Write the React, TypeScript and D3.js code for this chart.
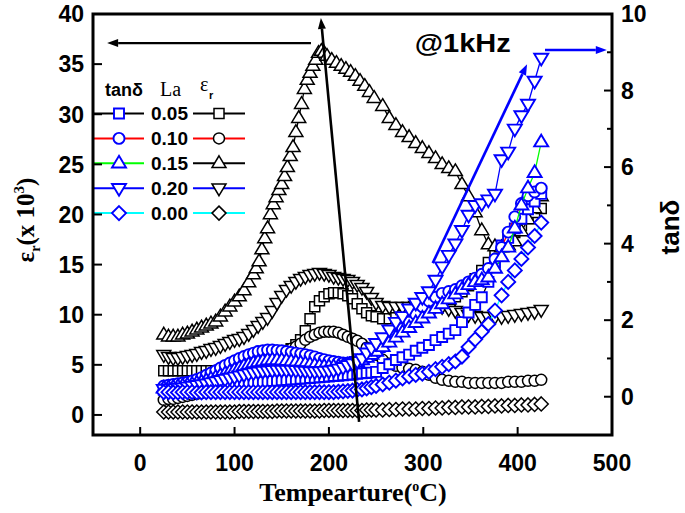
import React from 'react';
import * as d3 from 'd3';

// ---------- DATA ----------
const temps = [25,30,35,40,45,50,55,60,65,70,75,80,85,90,95,100,105,110,115,120,125,130,135,140,145,150,155,160,165,170,175,180,185,190,195,200,205,210,215,220,225,230,235,240,245,250,257,264,271,278,285,292,299,306,313,320,327,334,341,348,355,362,369,376,383,390,397,404,411,418,425];

const tempsEps015 = [25,30,35,40,45,50,55,60,65,70,75,80,85,90,95,100,105,110,115,120,123,126,129,132,135,138,141,144,147,150,153,156,159,162,165,168,171,174,177,180,183,186,189,192,195,198,203,208,213,218,223,228,233,238,243,248,257,264,271,278,285,292,299,306,313,320,327,334,341,348,355,362,369,376,383,390,397,404,411,418,425];

// dielectric constant (x 10^3), left axis
const eps005 = [4.4,4.4,4.4,4.4,4.4,4.4,4.4,4.4,4.4,4.4,4.4,4.4,4.5,4.5,4.5,4.5,4.6,4.7,4.8,5.0,5.1,5.3,5.5,5.7,5.9,6.0,6.2,6.6,7.0,7.5,8.4,9.6,10.8,11.4,11.8,12.1,12.2,12.2,12.1,11.9,11.6,11.1,10.6,10.2,9.9,9.8,9.6,9.6,9.7,9.9,10.1,10.3,10.5,10.7,10.9,11.1,11.4,11.8,12.3,12.9,13.6,14.4,15.2,16.0,16.8,17.5,18.2,18.9,19.6,20.2,20.6];
const eps010 = [1.5,1.6,1.6,1.7,1.8,1.9,2.0,2.1,2.2,2.3,2.4,2.5,2.6,2.8,3.0,3.2,3.4,3.6,3.9,4.2,4.5,4.8,5.1,5.4,5.8,6.1,6.4,6.6,6.8,7.1,7.5,7.8,8.0,8.2,8.3,8.3,8.3,8.2,8.0,7.8,7.6,7.4,7.1,6.7,6.3,6.0,5.5,5.1,4.9,4.7,4.6,4.5,4.3,4.0,3.7,3.5,3.4,3.3,3.3,3.2,3.2,3.2,3.2,3.2,3.2,3.3,3.3,3.3,3.4,3.4,3.5];
const eps015 = [8.0,7.8,7.8,7.8,8.0,8.1,8.3,8.5,8.7,8.9,9.1,9.3,9.8,10.3,10.8,11.3,11.8,12.4,13.2,14.0,14.6,15.3,16.5,17.6,18.6,20.0,21.0,21.7,22.4,23.0,23.8,24.7,25.8,26.7,28.2,29.6,31.0,32.5,33.4,34.1,34.8,35.4,36.1,36.3,36.1,35.8,35.4,35.1,34.8,34.5,34.2,33.8,33.3,32.8,32.2,31.6,30.8,29.6,28.9,28.2,27.7,27.1,26.6,26.1,25.6,25.0,24.6,24.3,23.0,21.8,20.2,18.4,17.0,16.8,16.7,16.9,17.3,18.3,19.5,20.6,21.8];
const eps020 = [6.0,5.8,5.7,5.7,5.8,5.9,6.0,6.1,6.3,6.4,6.6,6.7,6.9,7.1,7.3,7.5,7.6,7.8,8.1,8.5,8.9,9.3,9.7,10.4,11.2,11.9,12.5,12.9,13.3,13.6,13.8,14.0,14.1,14.2,14.1,14.0,13.8,13.7,13.6,13.5,13.3,13.0,12.7,12.3,11.7,11.2,10.9,10.8,10.8,10.8,10.8,10.9,10.9,10.9,10.9,10.8,10.6,10.4,10.2,10.0,9.9,9.8,9.8,9.8,9.8,9.9,10.0,10.1,10.2,10.3,10.5];
const eps000 = [0.3,0.3,0.3,0.3,0.3,0.3,0.3,0.3,0.3,0.3,0.3,0.3,0.3,0.3,0.3,0.3,0.35,0.35,0.35,0.35,0.35,0.35,0.35,0.35,0.4,0.4,0.4,0.4,0.4,0.4,0.4,0.4,0.4,0.4,0.45,0.45,0.45,0.45,0.45,0.45,0.45,0.45,0.45,0.5,0.5,0.5,0.5,0.55,0.55,0.6,0.6,0.6,0.65,0.65,0.7,0.7,0.75,0.75,0.8,0.8,0.8,0.85,0.85,0.9,0.9,0.95,0.95,1.0,1.0,1.05,1.1];

// loss tangent, right axis
const tan005 = [0.18,0.19,0.2,0.21,0.22,0.23,0.24,0.25,0.26,0.27,0.28,0.29,0.3,0.31,0.32,0.33,0.34,0.35,0.36,0.37,0.38,0.39,0.4,0.41,0.42,0.43,0.44,0.45,0.46,0.47,0.48,0.49,0.5,0.51,0.52,0.53,0.54,0.55,0.56,0.57,0.58,0.6,0.61,0.62,0.63,0.65,0.75,0.85,0.96,1.03,1.1,1.2,1.28,1.35,1.48,1.56,1.65,1.74,1.95,2.2,2.4,2.6,3.0,3.5,3.95,4.15,4.4,4.65,4.9,5.1,5.3];
const tan010 = [0.28,0.3,0.32,0.34,0.36,0.38,0.41,0.45,0.5,0.56,0.62,0.68,0.75,0.82,0.88,0.94,1.0,1.05,1.1,1.14,1.18,1.2,1.22,1.22,1.21,1.2,1.18,1.16,1.14,1.12,1.1,1.07,1.04,1.0,0.97,0.94,0.92,0.9,0.88,0.88,0.9,0.93,0.97,1.02,1.08,1.15,1.3,1.45,1.6,1.78,1.95,2.15,2.35,2.5,2.6,2.7,2.75,2.8,2.9,3.0,3.1,3.2,3.35,3.6,3.9,4.3,4.7,5.05,5.25,5.35,5.45];
const tan015 = [0.22,0.23,0.24,0.26,0.28,0.3,0.32,0.35,0.38,0.42,0.46,0.5,0.55,0.6,0.65,0.7,0.75,0.8,0.84,0.88,0.91,0.93,0.95,0.96,0.96,0.95,0.94,0.92,0.9,0.88,0.86,0.84,0.82,0.8,0.79,0.78,0.78,0.78,0.8,0.82,0.85,0.9,0.96,1.02,1.1,1.18,1.3,1.42,1.55,1.68,1.8,1.93,2.05,2.18,2.3,2.42,2.55,2.68,2.8,2.92,3.0,3.05,3.12,3.35,3.65,3.9,4.4,5.0,5.45,5.85,6.65];
const tan020 = [0.2,0.21,0.22,0.23,0.24,0.26,0.28,0.3,0.32,0.34,0.37,0.4,0.43,0.46,0.49,0.52,0.55,0.58,0.61,0.63,0.65,0.67,0.68,0.69,0.7,0.7,0.7,0.7,0.69,0.68,0.67,0.66,0.66,0.66,0.67,0.68,0.7,0.73,0.77,0.82,0.87,0.93,1.0,1.15,1.28,1.4,1.55,1.75,1.95,2.1,2.3,2.45,2.6,2.75,3.05,3.4,3.7,4.0,4.35,4.75,5.0,5.05,5.15,5.3,6.2,6.4,7.0,7.35,7.65,8.25,8.85];
const tan000 = [0.12,0.12,0.11,0.11,0.12,0.12,0.12,0.11,0.11,0.12,0.12,0.12,0.12,0.12,0.12,0.12,0.12,0.12,0.12,0.12,0.12,0.12,0.12,0.12,0.12,0.12,0.12,0.12,0.12,0.12,0.12,0.12,0.12,0.12,0.12,0.12,0.12,0.13,0.14,0.15,0.16,0.18,0.19,0.22,0.25,0.28,0.32,0.37,0.42,0.48,0.53,0.57,0.6,0.65,0.72,0.78,0.85,0.92,1.05,1.3,1.5,1.7,1.9,2.25,2.65,3.0,3.3,3.6,3.9,4.2,4.55];

const laLabels = ['0.05', '0.10', '0.15', '0.20', '0.00'];
const xTicks = [0, 100, 200, 300, 400, 500];
const yLeftTicks = [0, 5, 10, 15, 20, 25, 30, 35, 40];
const yRightTicks = [0, 2, 4, 6, 8, 10];
const yRightMinor = [1, 3, 5, 7, 9];

// annotations (data coordinates)
const arrowEpsLeft = { from: [181, 37.1], to: [-35, 37.1] };
const arrowEpsShift = { from: [232, -0.7], to: [191.5, 39.6] };
const arrowTanRise = { from: [310, 3.49], to: [410, 8.69] };
const arrowTanRight = { from: [429, 9.06], to: [494.5, 9.06] };
const freqLabel = { text: '@1kHz', at: [291, 36.2] };

// ---------- STYLE ----------
const BLUE = '#0000ff';
const shapes = ['square', 'circle', 'up', 'down', 'diamond'];
const tanLineColors = ['#000000', '#ff0000', '#00ff00', '#0000ff', '#00ffff'];
const epsLineColors = ['#000000', '#ff0000', '#000000', '#0000ff', '#00ffff'];
const SANS = '"Liberation Sans", Arial, sans-serif';
const SERIF = '"Liberation Serif", "Times New Roman", serif';

const L = 93, R = 612, T = 14, B = 435;
const x = d3.scaleLinear().domain([-50, 500]).range([L, R]);
const yL = d3.scaleLinear().domain([-2, 40]).range([B, T]);
const yR = d3.scaleLinear().domain([-1, 10]).range([B, T]);

function markerPath(shape: string): string {
  switch (shape) {
    case 'square': return 'M-5,-5H5V5H-5Z';
    case 'circle': return 'M5.5,0A5.5,5.5 0 1,1 -5.5,0A5.5,5.5 0 1,1 5.5,0Z';
    case 'up': return 'M0,-7.5L7,4.2L-7,4.2Z';
    case 'down': return 'M0,7.5L7,-4.2L-7,-4.2Z';
    default: return 'M0,-7L7,0L0,7L-7,0Z';
  }
}

const epsSeries = [
  { t: temps, v: eps005, shape: 'square', line: epsLineColors[0] },
  { t: temps, v: eps010, shape: 'circle', line: epsLineColors[1] },
  { t: tempsEps015, v: eps015, shape: 'up', line: epsLineColors[2] },
  { t: temps, v: eps020, shape: 'down', line: epsLineColors[3] },
  { t: temps, v: eps000, shape: 'diamond', line: epsLineColors[4] },
];
const tanSeries = [
  { t: temps, v: tan005, shape: 'square', line: tanLineColors[0] },
  { t: temps, v: tan010, shape: 'circle', line: tanLineColors[1] },
  { t: temps, v: tan015, shape: 'up', line: tanLineColors[2] },
  { t: temps, v: tan020, shape: 'down', line: tanLineColors[3] },
  { t: temps, v: tan000, shape: 'diamond', line: tanLineColors[4] },
];

function Arrow({ x1, y1, x2, y2, color, width }: any) {
  const a = Math.atan2(y2 - y1, x2 - x1);
  const len = 11, hw = 4;
  const bx = x2 - len * Math.cos(a), by = y2 - len * Math.sin(a);
  const px = -Math.sin(a) * hw, py = Math.cos(a) * hw;
  return (
    <g>
      <line x1={x1} y1={y1} x2={bx} y2={by} stroke={color} strokeWidth={width} />
      <path d={`M${x2},${y2}L${bx + px},${by + py}L${bx - px},${by - py}Z`} fill={color} />
    </g>
  );
}

function SeriesG({ s, y, stroke, sw }: any) {
  const pts: [number, number][] = s.t.map((t: number, i: number) => [x(t), y(s.v[i])]);
  const line = d3.line();
  return (
    <g>
      <path d={line(pts) || ''} fill="none" stroke={s.line} strokeWidth={1.3} />
      {pts.map((p, i) => (
        <path key={i} d={markerPath(s.shape)} transform={`translate(${p[0]},${p[1]})`}
          fill="#fff" stroke={stroke} strokeWidth={sw} />
      ))}
    </g>
  );
}

export default function App() {
  const rowY = (i: number) => 113.5 + i * 24.9;
  return (
    <svg width={685} height={513} style={{ position: 'absolute', left: 0, top: 0, background: '#fff' }}>
      <rect x={0} y={0} width={685} height={513} fill="#fff" />
      {/* series */}
      {epsSeries.map((s, i) => <SeriesG key={'e' + i} s={s} y={yL} stroke="#000" sw={1.5} />)}
      {tanSeries.map((s, i) => <SeriesG key={'t' + i} s={s} y={yR} stroke={BLUE} sw={1.9} />)}

      {/* annotations */}
      <Arrow x1={x(arrowEpsLeft.from[0])} y1={yL(arrowEpsLeft.from[1])} x2={x(arrowEpsLeft.to[0])} y2={yL(arrowEpsLeft.to[1])} color="#000" width={2.2} />
      <Arrow x1={x(arrowEpsShift.from[0])} y1={yL(arrowEpsShift.from[1])} x2={x(arrowEpsShift.to[0])} y2={yL(arrowEpsShift.to[1])} color="#000" width={2.6} />
      <Arrow x1={x(arrowTanRise.from[0])} y1={yR(arrowTanRise.from[1])} x2={x(arrowTanRise.to[0])} y2={yR(arrowTanRise.to[1])} color={BLUE} width={2.6} />
      <Arrow x1={x(arrowTanRight.from[0])} y1={yR(arrowTanRight.from[1])} x2={x(arrowTanRight.to[0])} y2={yR(arrowTanRight.to[1])} color={BLUE} width={2.6} />
      <text x={x(freqLabel.at[0])} y={yL(freqLabel.at[1])} fontFamily={SANS} fontWeight="bold" fontSize={25}
        textLength={96} lengthAdjust="spacingAndGlyphs" fill="#000">{freqLabel.text}</text>

      {/* legend */}
      <text x={105} y={96} fontFamily={SANS} fontWeight="bold" fontSize={18} textLength={38} lengthAdjust="spacingAndGlyphs">tanδ</text>
      <text x={160} y={96} fontFamily={SERIF} fontSize={20}>La</text>
      <text x={200} y={91} fontFamily={SERIF} fontSize={20}>ε</text>
      <text x={209} y={99} fontFamily={SANS} fontWeight="bold" fontSize={11}>r</text>
      {laLabels.map((lab, i) => (
        <g key={lab}>
          <line x1={L} x2={144} y1={rowY(i)} y2={rowY(i)} stroke={tanLineColors[i]} strokeWidth={2} />
          <path d={markerPath(shapes[i])} transform={`translate(119,${rowY(i)})`} fill="#fff" stroke={BLUE} strokeWidth={1.9} />
          <text x={151} y={rowY(i) + 6.5} fontFamily={SANS} fontWeight="bold" fontSize={18} textLength={37} lengthAdjust="spacingAndGlyphs">{lab}</text>
          <line x1={193} x2={245} y1={rowY(i)} y2={rowY(i)} stroke={epsLineColors[i]} strokeWidth={2} />
          <path d={markerPath(shapes[i])} transform={`translate(219,${rowY(i)})`} fill="#fff" stroke="#000" strokeWidth={1.5} />
        </g>
      ))}

      {/* frame and ticks */}
      <rect x={L} y={T} width={R - L} height={B - T} fill="none" stroke="#000" strokeWidth={3} />
      {xTicks.map(t => (
        <g key={'x' + t}>
          <line x1={x(t)} x2={x(t)} y1={B} y2={B - 8} stroke="#000" strokeWidth={2} />
          <text x={x(t)} y={471} textAnchor="middle" fontFamily={SANS} fontWeight="bold" fontSize={23}>{t}</text>
        </g>
      ))}
      {yLeftTicks.map(t => (
        <g key={'yl' + t}>
          <line x1={L} x2={L + 9} y1={yL(t)} y2={yL(t)} stroke="#000" strokeWidth={2} />
          <text x={84} y={yL(t)} dy="0.36em" textAnchor="end" fontFamily={SANS} fontWeight="bold" fontSize={23}>{t}</text>
        </g>
      ))}
      {yRightTicks.map(t => (
        <g key={'yr' + t}>
          <line x1={R} x2={R - 8} y1={yR(t)} y2={yR(t)} stroke="#000" strokeWidth={2} />
          <text x={621} y={yR(t)} dy="0.36em" fontFamily={SANS} fontWeight="bold" fontSize={23}>{t}</text>
        </g>
      ))}
      {yRightMinor.map(t => (
        <line key={'ym' + t} x1={R} x2={R - 5} y1={yR(t)} y2={yR(t)} stroke="#000" strokeWidth={2} />
      ))}

      {/* axis titles */}
      <text x={353} y={501} textAnchor="middle" fontFamily={SERIF} fontWeight="bold" fontSize={26}>
        Tempearture(<tspan dy={-10} fontSize={14}>o</tspan><tspan dy={10}>C)</tspan>
      </text>
      <text transform="translate(34,220) rotate(-90)" textAnchor="middle" fontFamily={SERIF} fontWeight="bold" fontSize={25}>
        ε<tspan dy={6} fontSize={14}>r</tspan><tspan dy={-6}>(x 10</tspan><tspan dy={-10} fontSize={15}>3</tspan><tspan dy={10}>)</tspan>
      </text>
      <text transform="translate(679,227) rotate(-90)" textAnchor="middle" fontFamily={SANS} fontWeight="bold" fontSize={26}>tanδ</text>
    </svg>
  );
}
